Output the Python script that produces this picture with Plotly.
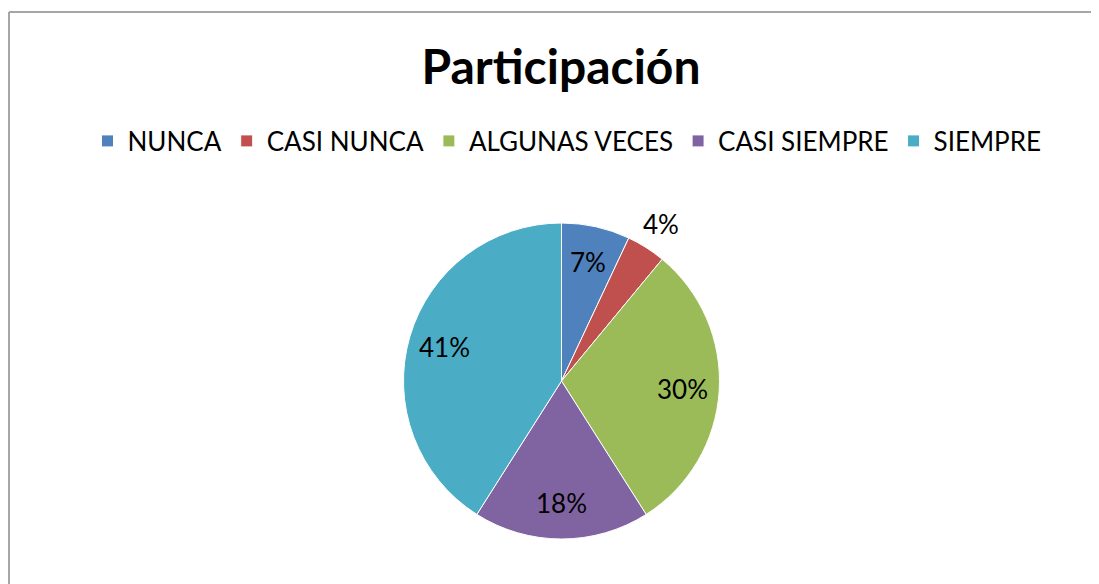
import math
import plotly.graph_objects as go

categories = ["NUNCA", "CASI NUNCA", "ALGUNAS VECES", "CASI SIEMPRE", "SIEMPRE"]
values = [7, 4, 30, 18, 41]
colors = ["#4F81BD", "#C0504D", "#9BBB59", "#8064A2", "#4BACC6"]
label_radius = [0.77, 1.18, 0.77, 0.77, 0.77]  # label distance as fraction of radius

FONT = "Lato, Open Sans, sans-serif"
OFF = 8  # page body margin
W, H = 1099 - OFF, 584 - OFF
cx, cy, r = 561.5 - OFF, 381 - OFF, 158

fig = go.Figure(go.Pie(
    labels=categories,
    values=values,
    sort=False,
    direction="clockwise",
    rotation=0,
    marker=dict(colors=colors, line=dict(color="white", width=1)),
    textinfo="none",
    domain=dict(x=[(cx - r) / W, (cx + r) / W], y=[(H - cy - r) / H, (H - cy + r) / H]),
    hoverinfo="label+percent",
))

# percentage labels placed at each slice's mid-angle
total = sum(values)
annotations = []
cum = 0
for v, k in zip(values, label_radius):
    mid = (cum + v / 2) / total * 2 * math.pi
    cum += v
    d = k * r
    px = cx + d * math.sin(mid)
    py = cy - d * math.cos(mid)
    annotations.append(dict(
        x=px / W, y=(H - py) / H, xref="paper", yref="paper",
        text=f"{round(v / total * 100)}%", showarrow=False,
        xanchor="center", yanchor="middle",
        font=dict(family=FONT, size=26, color="#000000"),
    ))

fig.update_layout(
    width=W, height=H,
    margin=dict(l=0, r=0, t=0, b=0),
    paper_bgcolor="white",
    plot_bgcolor="white",
    title=dict(text="<b>Participación</b>", x=(561 - OFF) / W, xanchor="center",
               y=1 - (67 - OFF) / H, yanchor="middle",
               font=dict(family=FONT, size=48, color="#000000")),
    legend=dict(orientation="h", x=(567 - OFF) / W, xanchor="center", y=1 - (141 - OFF) / H,
                yanchor="middle",
                font=dict(family=FONT, size=26, color="#000000"),
                itemwidth=30, traceorder="normal"),
    annotations=annotations,
    shapes=[
        dict(type="line", xref="paper", yref="paper", x0=(9 - OFF) / W, x1=(9 - OFF) / W,
             y0=-0.05, y1=1 - (12 - OFF) / H, line=dict(color="#A6A6A6", width=2)),
        dict(type="line", xref="paper", yref="paper", x0=(9 - OFF) / W, x1=1.05,
             y0=1 - (12 - OFF) / H, y1=1 - (12 - OFF) / H, line=dict(color="#A6A6A6", width=2)),
    ],
)

fig.write_html("out.html")
